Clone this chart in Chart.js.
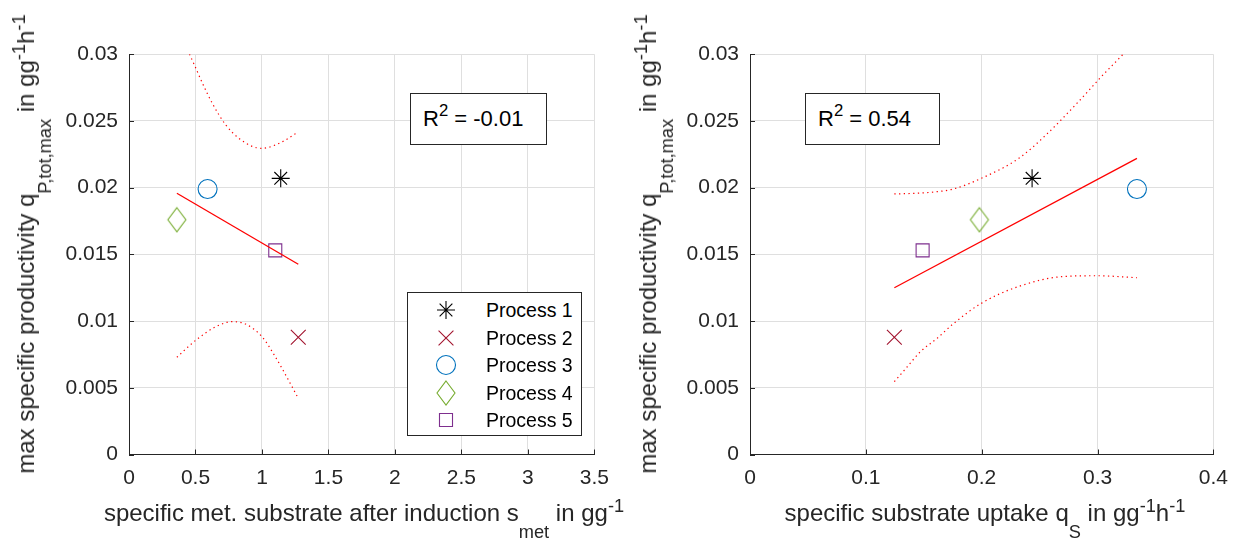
<!DOCTYPE html>
<html><head><meta charset="utf-8">
<script src="https://cdn.jsdelivr.net/npm/chart.js@4/dist/chart.umd.min.js"></script>
<style>
html,body{margin:0;padding:0;background:#fff;}
body{width:1239px;height:538px;position:relative;overflow:hidden;font-family:'Liberation Sans',Arial,Helvetica,sans-serif;color:#262626;}
canvas.ch{position:absolute;top:0;}
.title{position:absolute;white-space:nowrap;font-size:24px;color:#262626;line-height:1;}
.xt{transform:translate(-50%,-50%);}
.yt{transform:translate(-50%,-50%) rotate(-90deg);}
.sub{font-size:0.76em;position:relative;top:17px;}
.sup{font-size:0.76em;position:relative;top:-9px;}
.rbox{position:absolute;border:1px solid #262626;background:#fff;font-size:22px;box-sizing:border-box;display:flex;align-items:center;padding-left:12px;white-space:nowrap;color:#000;}
.rbox .sup{top:-8px;}
.legend{position:absolute;left:407px;top:292px;width:175px;height:144px;border:1px solid #262626;background:#fff;box-sizing:border-box;}
.legend .row{position:absolute;left:78px;height:26px;line-height:26px;font-size:19.5px;color:#000;white-space:nowrap;}
.legend canvas{position:absolute;}
</style>
</head>
<body>
<canvas id="c1" class="ch" width="620" height="538" style="left:0px;width:620px;height:538px"></canvas>
<canvas id="c2" class="ch" width="619" height="538" style="left:620px;width:619px;height:538px"></canvas>

<div class="title xt" style="left:364px;top:513px">specific met. substrate after induction s<span class="sub">met</span> in gg<span class="sup">-1</span></div>
<div class="title xt" style="left:985px;top:513px">specific substrate uptake q<span class="sub">S</span> in gg<span class="sup">-1</span>h<span class="sup">-1</span></div>
<div class="title yt" style="left:26px;top:244px">max specific productivity q<span class="sub">P,tot,max</span> in gg<span class="sup">-1</span>h<span class="sup">-1</span></div>
<div class="title yt" style="left:648px;top:244px">max specific productivity q<span class="sub">P,tot,max</span> in gg<span class="sup">-1</span>h<span class="sup">-1</span></div>

<div id="r1" class="rbox" style="left:410px;top:93px;width:137px;height:52px"></div>
<div id="r2" class="rbox" style="left:805px;top:93px;width:135px;height:52px"></div>

<div id="legend" class="legend"></div>

<script>
// ---------- data ----------
const processNames = ['Process 1', 'Process 2', 'Process 3', 'Process 4', 'Process 5'];
const qPmax = [0.0207, 0.00879, 0.0199, 0.0176, 0.0153];
const sMet = [1.141, 1.273, 0.591, 0.360, 1.100];
const qS = [0.2435, 0.1246, 0.334, 0.198, 0.149];

const fitMetX = [0.36, 1.273];
const fitMetY = [0.01958, 0.01426];
const ciUpMetX = [0.36, 0.455, 0.492, 0.554, 0.628, 0.728, 0.827, 0.926, 1.0, 1.10, 1.199, 1.273];
const ciUpMetY = [0.0319, 0.0300, 0.0292, 0.0278, 0.0263, 0.0247, 0.0237, 0.0231, 0.02295, 0.0232, 0.0237, 0.0242];
const ciLoMetX = [0.36, 0.504, 0.653, 0.777, 0.876, 1.0, 1.10, 1.199, 1.273];
const ciLoMetY = [0.00729, 0.00858, 0.00958, 0.00996, 0.00978, 0.00883, 0.00733, 0.00558, 0.00421];

const fitQsX = [0.1246, 0.334];
const fitQsY = [0.0125, 0.0222];
const ciUpQsX = [0.1246, 0.147, 0.1614, 0.1755, 0.1996, 0.232, 0.2548, 0.283, 0.303, 0.323, 0.334];
const ciUpQsY = [0.01953, 0.0196, 0.0197, 0.0199, 0.0207, 0.0222, 0.0239, 0.0264, 0.0283, 0.0301, 0.0312];
const ciLoQsX = [0.1246, 0.135, 0.147, 0.1614, 0.1755, 0.1996, 0.232, 0.269, 0.300, 0.334];
const ciLoQsY = [0.00546, 0.0065, 0.0077, 0.0087, 0.0098, 0.01133, 0.0126, 0.01333, 0.0134, 0.01325];

const yTickLabels = ['0', '0.005', '0.01', '0.015', '0.02', '0.025', '0.03'];
const xTickLabelsMet = ['0', '0.5', '1', '1.5', '2', '2.5', '3', '3.5'];
const xTickLabelsQs = ['0', '0.1', '0.2', '0.3', '0.4'];
const r2Values = ['-0.01', '0.54'];

// ---------- styles ----------
const FONT = "'Liberation Sans', Arial, Helvetica, sans-serif";
const AXIS = '#262626';
function diamondCanvas() {
  const c = document.createElement('canvas');
  c.width = 22; c.height = 28;
  const g = c.getContext('2d');
  g.strokeStyle = '#77AC30'; g.lineWidth = 1.1;
  g.beginPath(); g.moveTo(11, 2); g.lineTo(20, 14); g.lineTo(11, 26); g.lineTo(2, 14); g.closePath(); g.stroke();
  return c;
}
const diamond = diamondCanvas();
const markerStyles = ['star', 'crossRot', 'circle', diamond, 'rect'];
const markerColors = ['#000000', '#A2142F', '#0072BD', '#77AC30', '#7E2F8E'];
const markerRadii = [9, 10.5, 9.5, 10, 9.2];

const inwardTicks = {
  id: 'inwardTicks',
  beforeDatasetsDraw(chart) {
    const { ctx, chartArea: a, scales: { x, y } } = chart;
    ctx.save();
    ctx.strokeStyle = AXIS; ctx.lineWidth = 1;
    ctx.beginPath();
    x.ticks.forEach(t => { const p = Math.round(x.getPixelForValue(t.value)) + 0.5; ctx.moveTo(p, a.bottom); ctx.lineTo(p, a.bottom - 5); });
    y.ticks.forEach(t => { const p = Math.round(y.getPixelForValue(t.value)) + 0.5; ctx.moveTo(a.left, p); ctx.lineTo(a.left + 5, p); });
    ctx.stroke();
    ctx.restore();
  }
};

function labelFor(list) {
  return v => { const s = list.find(l => Math.abs(parseFloat(l) - v) < 1e-9); return s === undefined ? '' : s; };
}

function makeChart(id, cfg) {
  const datasets = processNames.map((name, i) => ({
    label: name,
    data: [{ x: cfg.px[i], y: qPmax[i] }],
    showLine: false,
    pointStyle: markerStyles[i],
    pointRadius: markerRadii[i],
    pointBorderColor: markerColors[i],
    borderColor: markerColors[i],
    pointBackgroundColor: 'rgba(0,0,0,0)',
    backgroundColor: 'rgba(0,0,0,0)',
    pointBorderWidth: 1.1,
    order: 1
  }));
  const line = (xs, ys, dotted) => ({
    label: dotted ? 'CI' : 'fit',
    data: xs.map((x, i) => ({ x, y: ys[i] })),
    showLine: true,
    borderColor: '#ff0000',
    borderWidth: dotted ? 1.2 : 1.3,
    borderDash: dotted ? [1.3, 3.4] : [],
    pointRadius: 0,
    cubicInterpolationMode: dotted ? 'monotone' : 'default',
    fill: false,
    order: 0
  });
  datasets.push(line(cfg.fitX, cfg.fitY, false));
  datasets.push(line(cfg.upX, cfg.upY, true));
  datasets.push(line(cfg.loX, cfg.loY, true));

  return new Chart(document.getElementById(id), {
    type: 'scatter',
    data: { datasets },
    options: {
      responsive: false,
      animation: false,
      devicePixelRatio: 1,
      events: [],
      layout: { padding: { left: 0, right: cfg.padRight, top: 54.3, bottom: 0 } },
      plugins: { legend: { display: false }, tooltip: { enabled: false } },
      scales: {
        x: {
          type: 'linear', min: cfg.xMin, max: cfg.xMax,
          afterFit: s => { s.height = 83.5; },
          ticks: { stepSize: cfg.xStep, autoSkip: false, maxRotation: 0, padding: 11, color: AXIS, font: { family: FONT, size: 21 }, callback: labelFor(cfg.xLabels) },
          grid: { color: '#dfdfdf', lineWidth: 1, drawTicks: false },
          border: { color: AXIS, width: 1 }
        },
        y: {
          type: 'linear', min: 0, max: 0.03,
          afterFit: s => { s.width = cfg.yWidth; },
          ticks: { stepSize: 0.005, autoSkip: false, padding: 11, color: AXIS, font: { family: FONT, size: 21 }, callback: labelFor(yTickLabels) },
          grid: { color: '#dfdfdf', lineWidth: 1, drawTicks: false },
          border: { color: AXIS, width: 1 }
        }
      }
    },
    plugins: [inwardTicks]
  });
}

makeChart('c1', {
  px: sMet, xMin: 0, xMax: 3.5, xStep: 0.5, xLabels: xTickLabelsMet,
  fitX: fitMetX, fitY: fitMetY, upX: ciUpMetX, upY: ciUpMetY, loX: ciLoMetX, loY: ciLoMetY,
  yWidth: 129, padRight: 20.7
});
makeChart('c2', {
  px: qS, xMin: 0, xMax: 0.4, xStep: 0.1, xLabels: xTickLabelsQs,
  fitX: fitQsX, fitY: fitQsY, upX: ciUpQsX, upY: ciUpQsY, loX: ciLoQsX, loY: ciLoQsY,
  yWidth: 130, padRight: 18
});

// R² boxes
['r1', 'r2'].forEach((id, i) => {
  document.getElementById(id).innerHTML = 'R<span class="sup">2</span>&nbsp;= ' + r2Values[i];
});

// legend
const leg = document.getElementById('legend');
const rowCenters = [17, 44.5, 72, 99.5, 127];
processNames.forEach((name, i) => {
  const c = document.createElement('canvas');
  c.width = 30; c.height = 30;
  c.style.left = (38 - 15) + 'px';
  c.style.top = (rowCenters[i] - 15) + 'px';
  const g = c.getContext('2d');
  g.strokeStyle = markerColors[i]; g.fillStyle = 'rgba(0,0,0,0)'; g.lineWidth = 1.1;
  Chart.helpers.drawPoint(g, { pointStyle: markerStyles[i], radius: markerRadii[i], borderWidth: 1.1, rotation: 0 }, 15, 15);
  leg.appendChild(c);
  const r = document.createElement('div');
  r.className = 'row';
  r.style.top = (rowCenters[i] - 13) + 'px';
  r.textContent = name;
  leg.appendChild(r);
});
</script>
</body></html>
